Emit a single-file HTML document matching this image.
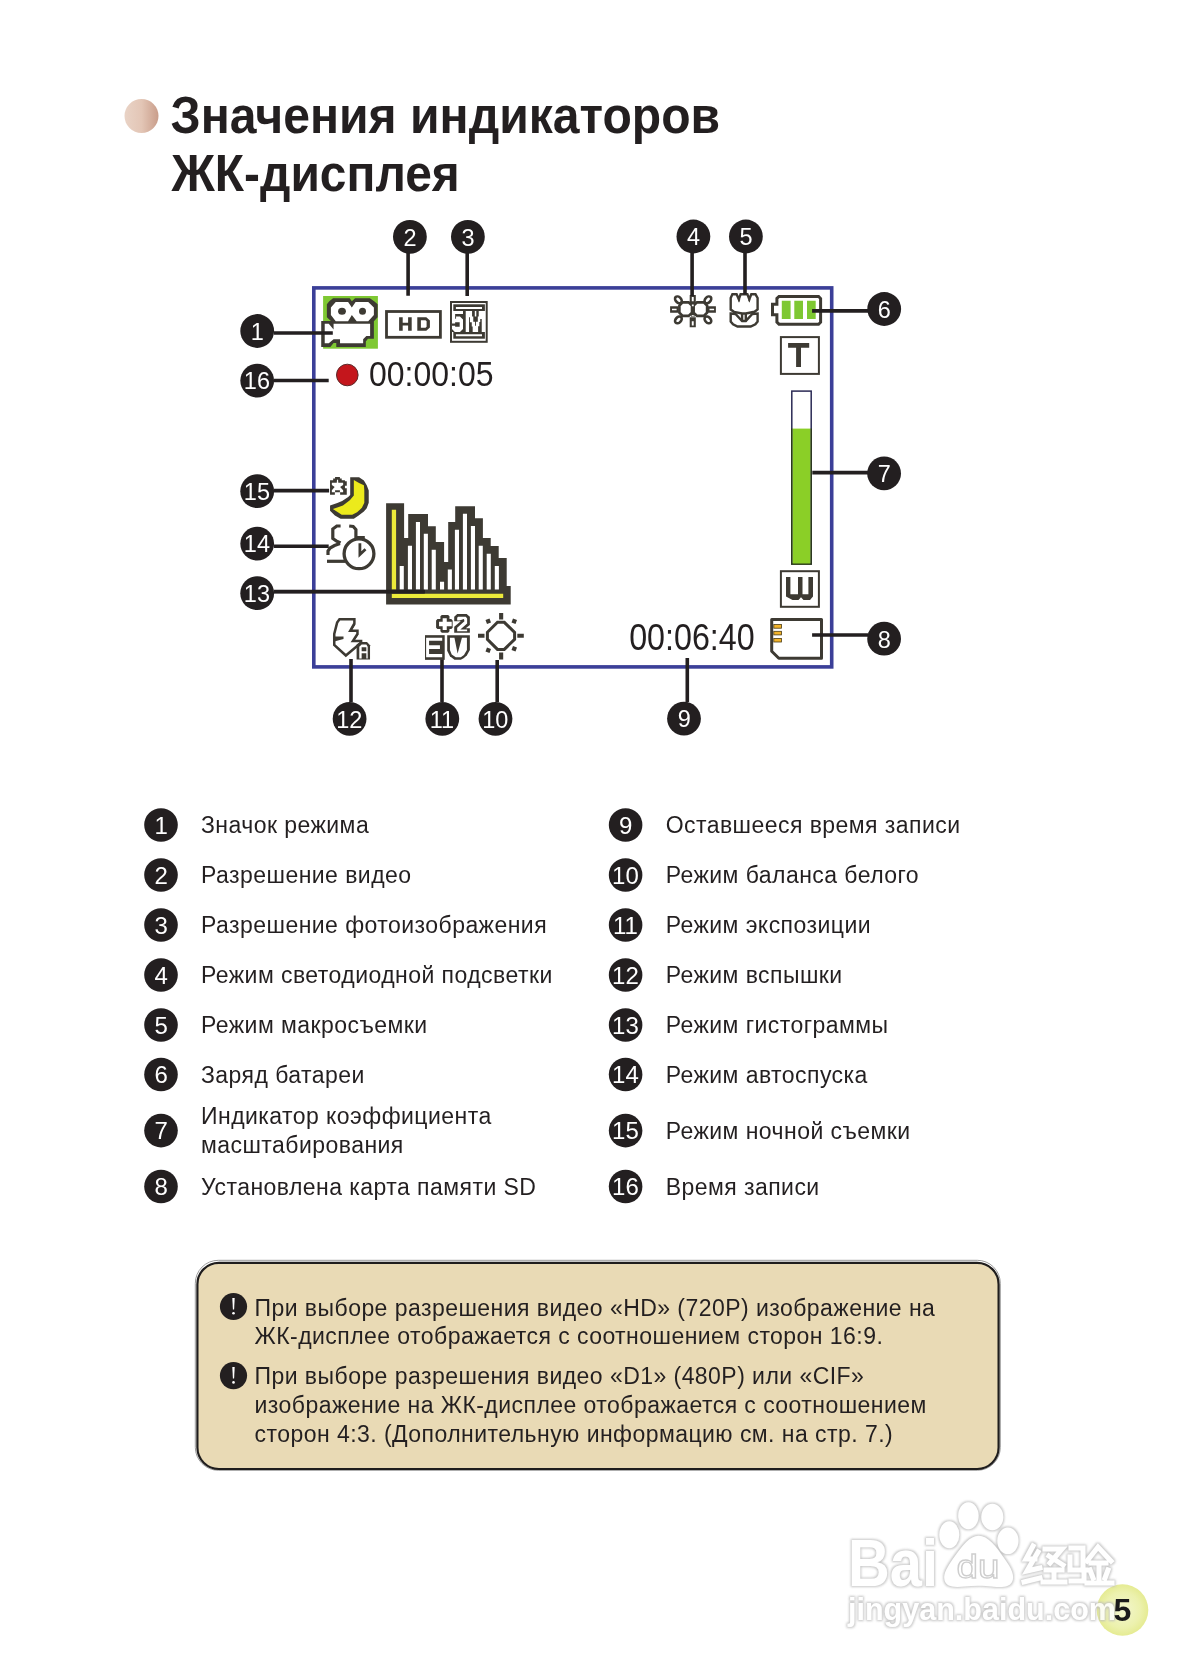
<!DOCTYPE html>
<html><head><meta charset="utf-8">
<style>
html,body{margin:0;padding:0;background:#fff;}
body{width:1191px;height:1678px;overflow:hidden;position:relative;}
svg{position:absolute;left:0;top:0;will-change:transform;}
text{font-family:"Liberation Sans",sans-serif;}
.t{font-size:23px;fill:#231f20;letter-spacing:0.45px;}
.n{font-size:23.5px;fill:#fff;text-anchor:middle;}
.nb{font-size:23.5px;fill:#fff;text-anchor:middle;}
.ln{font-size:24px;fill:#fff;text-anchor:middle;}
.lnb{font-size:24px;fill:#fff;text-anchor:middle;}
.wm{font-weight:bold;fill:#fff;stroke:#d2d2d2;stroke-width:1.6px;}
</style></head>
<body>
<svg width="1191" height="1678" viewBox="0 0 1191 1678">
<defs>
<linearGradient id="bul" x1="0" y1="0" x2="1" y2="0">
<stop offset="0" stop-color="#e9d3c6"/><stop offset="0.5" stop-color="#e3c6b6"/><stop offset="1" stop-color="#c99d8a"/>
</linearGradient>
<radialGradient id="pg" cx="0.5" cy="0.5" r="0.5">
<stop offset="0" stop-color="#f3f6cf"/><stop offset="0.7" stop-color="#ecf1ad"/><stop offset="1" stop-color="#e5eb92"/>
</radialGradient>
</defs>

<circle cx="141.5" cy="116" r="17" fill="url(#bul)"/>
<g font-weight="bold" font-size="51.5" fill="#231f20"><text x="170.6" y="133.4" textLength="549.6" lengthAdjust="spacingAndGlyphs">Значения индикаторов</text><text x="171.6" y="190.8" textLength="288.2" lengthAdjust="spacingAndGlyphs">ЖК-дисплея</text></g>
<rect x="313.8" y="287.9" width="517.9" height="379" fill="none" stroke="#3b3f98" stroke-width="3.6"/>
<rect x="323.1" y="296" width="54.8" height="52.7" fill="#7ec832"/>
<path d="M333.05 298.18 L349.70 298.18 L351.85 301.13 L355.08 298.18 L369.85 298.18 L374.15 301.13 L377.65 304.36 L377.65 317.26 L373.88 321.29 L373.88 338.75 L367.97 338.75 L365.82 341.44 L365.82 347.08 L336.27 347.08 L336.27 343.05 L333.58 343.05 L330.36 347.08 L321.22 347.08 L321.22 321.02 L330.90 321.02 L326.87 317.26 L326.87 304.36 L329.28 301.13 Z" fill="#3d3a33"/><path d="M335.73 301.94 L348.09 301.94 L351.85 307.58 L355.61 301.94 L368.24 301.94 L373.88 307.58 L373.88 315.11 L368.24 321.29 L356.69 321.29 L351.85 315.11 L348.09 321.29 L335.73 321.29 L330.90 315.11 L330.90 307.58 Z M324.72 323.70 L328.75 323.70 L333.58 329.61 L333.58 323.70 L370.12 323.70 L370.12 336.06 L366.36 336.06 L363.14 339.29 L363.14 343.32 L340.03 343.32 L340.03 339.29 L333.58 339.29 L328.75 343.32 L324.72 343.32 Z" fill="#fff"/>
<ellipse cx="342" cy="311.2" rx="3.9" ry="3.5" fill="#3d3a33"/><ellipse cx="362.5" cy="311.2" rx="3.5" ry="3.5" fill="#3d3a33"/>
<rect x="386.5" y="311.5" width="53.9" height="25.8" fill="none" stroke="#3d3a33" stroke-width="2.8"/>
<path fill="#3d3a33" fill-rule="evenodd" d="M399.1 317.2h3.6v5.6h5.4v-5.6h3.6v13.6h-3.6v-5.2h-5.4v5.2h-3.6z M417.3 317.2h9l3.6 3.4v6.8l-3.6 3.4h-9z M420.9 320.2v7.6h4.6l1.1-1.1v-5.4l-1.1-1.1z"/>
<rect x="451" y="302" width="35.7" height="39.8" fill="none" stroke="#3d3a33" stroke-width="2"/>
<rect x="453.3" y="304.3" width="31.6" height="34.4" fill="#3d3a33"/>
<path fill="#fff" d="M455.9 306.9h26.1v2.1h-26.1z M455.9 334.2h26.1v2.1h-26.1z"/>
<path fill="#fff" d="M451.96 310.99 L463.00 310.99 L463.00 332.00 L451.96 332.00 Z M465.72 310.99 L485.07 310.99 L485.07 332.00 L465.72 332.00 Z"/>
<path fill="#3d3a33" d="M455.14 314.01 L463.00 314.01 L463.00 316.58 L455.14 316.58 Z M455.14 316.58 L456.05 316.58 L456.05 318.70 L455.14 318.70 Z M459.98 316.58 L463.00 316.58 L463.00 319.60 Z M455.14 322.32 L459.67 322.32 L459.67 326.86 L455.14 326.86 Z M451.96 323.53 L455.14 323.53 L455.14 325.65 L451.96 325.65 Z M451.96 328.97 L454.84 332.00 L451.96 332.00 Z M463.00 328.97 L463.00 332.00 L459.98 332.00 Z M469.04 317.19 L469.95 317.19 L469.95 332.00 L469.04 332.00 Z M469.95 322.32 L471.77 322.32 L471.77 332.00 L469.95 332.00 Z M471.77 326.56 L472.67 326.56 L472.67 332.00 L471.77 332.00 Z M472.07 310.99 L474.79 310.99 L474.79 316.58 L472.07 316.58 Z M476.30 310.99 L478.72 310.99 L478.72 316.58 L476.30 316.58 Z M473.28 316.58 L477.81 316.58 L477.81 321.72 L473.28 321.72 Z M475.09 321.72 L476.00 321.72 L476.00 325.65 L475.09 325.65 Z M480.23 319.00 L481.74 319.00 L481.74 332.00 L480.23 332.00 Z M479.32 322.02 L480.23 322.02 L480.23 332.00 L479.32 332.00 Z M478.11 326.25 L479.32 326.25 L479.32 332.00 L478.11 332.00 Z"/>
<circle cx="347.3" cy="375" r="10.8" fill="#c4161c" stroke="#5a2a2a" stroke-width="1"/>
<text x="0" y="0" font-size="35.5" fill="#231f20" transform="translate(368.9 386.1) scale(0.902 1)">00:00:05</text>
<g stroke="#3d3a33" stroke-width="2.6" fill="#fff"><ellipse cx="678.4" cy="299.8" rx="3.9" ry="2.7" transform="rotate(45 678.4 299.8)"/><ellipse cx="707.9" cy="299.8" rx="3.9" ry="2.7" transform="rotate(-45 707.9 299.8)"/><ellipse cx="678.4" cy="319.9" rx="3.9" ry="2.7" transform="rotate(-45 678.4 319.9)"/><ellipse cx="707.9" cy="319.9" rx="3.9" ry="2.7" transform="rotate(45 707.9 319.9)"/><path d="M682.6 302.4 H688.6 L692 305.6 V312.6 L688.6 315.9 H682.6 L679.4 312.6 V305.6 Z"/><path d="M697 302.4 H703.8 L707.1 305.6 V312.6 L703.8 315.9 H697 L693.6 312.6 V305.6 Z"/></g>
<path fill="#3d3a33" d="M689.7 295.1h6.1v8.5h-6.1z M689.7 317.2h6.1v10.1h-6.1z M670.1 306.2h8.5v6.5h-8.5z M707.4 306.2h8.5v6.5h-8.5z M691 302h3.6v15h-3.6z"/>
<path fill="#fff" d="M691.8 297h1.9v4.2h-1.9z M691.8 321.3h1.9v4.3h-1.9z M672 308.8h4.6v1.4h-4.6z M709.5 308.8h4.6v1.4h-4.6z M691.9 304.5h1.8v1.8h-1.8z M691.2 316.6 a1.6 1.6 0 0 1 3.2 0z"/>
<g stroke="#3d3a33" stroke-width="2.4" fill="#fff" stroke-linejoin="miter"><path d="M730.7 309.5 V298 L732.4 294.3 H736.6 L738.8 299.2 L740.6 294.3 H747.4 L749.3 299.2 L751.3 294.3 H755.5 L757.6 298 V309.5 L754.5 311.8 L745.8 313.5 H742.1 L734 311.8 Z"/><path d="M730.7 313.5 L735.5 314 L742.1 321 L745.8 321 L752.3 314 L757.6 313.5 V321.5 L755.4 324.3 L750.7 326.5 H737.5 L733 324.3 L730.7 321.5 Z"/><path d="M742.1 313.5 V321.5 M745.8 313.5 V321.5" fill="none"/></g>
<path fill="#3d3a33" d="M737.8 299.5 h2.6 l-1.3 3z M748 299.5 h2.6 l-1.3 3z"/>
<path d="M779 296.5 H818.6 L820.6 298.5 V322.2 L818.6 324.2 H779 L776.9 322.2 V314.8 H772.5 V304.3 H776.9 V298.5 Z" fill="#fff" stroke="#3d3a33" stroke-width="3"/>
<path fill="#7ec832" d="M781.8 300.8h8.8v18.2h-8.8z M794.3 300.8h8.7v18.2h-8.7z M807 300.8h8.7v18.2h-8.7z"/>
<rect x="780.9" y="337.1" width="38" height="36.8" fill="#fff" stroke="#3d3a33" stroke-width="2"/>
<path fill="#3d3a33" d="M788.1 343h21.1v4.7h-8.2v19.3h-4.9v-19.3h-8z"/>
<rect x="791.8" y="391.1" width="19.4" height="173" fill="#fff" stroke="#2b2a55" stroke-width="1.5"/>
<rect x="792.5" y="428.6" width="18" height="135.8" fill="#8bcf27"/>
<path d="M791.8 428.6 V564.2 H811.2 V428.6" fill="none" stroke="#2c3a18" stroke-width="1.3"/>
<rect x="780.9" y="571.2" width="38" height="35.6" fill="#fff" stroke="#3d3a33" stroke-width="2"/>
<path fill="#3d3a33" d="M786 577.1h4.4v17.1h7.6v-17.1h4.5v17.1h5.9v-17.1h4.6v19.3l-3 3.5h-6.5l-2.5-2.6-2.5 2.6h-6L786 596.4z"/>
<path d="M771.7 619.5 H821.5 V658.2 H778.8 L771.7 651.2 Z" fill="#fff" stroke="#3d3a33" stroke-width="3" stroke-linejoin="round"/>
<g fill="#f2b32a" stroke="#4a3a10" stroke-width="0.8"><rect x="773.8" y="624.6" width="7.6" height="3.6"/><rect x="773.8" y="631.3" width="7.6" height="3.6"/><rect x="773.8" y="638.4" width="7.6" height="3.6"/></g>
<text x="0" y="0" font-size="36.5" fill="#231f20" transform="translate(629.2 649.8) scale(0.883 1)">00:06:40</text>
<path d="M350.20 477.24 L359.07 477.24 L363.90 480.46 L366.72 485.30 L368.74 490.54 L368.74 502.63 L366.72 508.28 L363.90 511.50 L358.66 515.53 L353.83 518.76 L340.61 518.76 L334.88 515.53 L330.05 510.69 L330.05 505.45 L337.30 503.04 L342.14 501.02 L348.18 496.99 L350.20 494.97 Z" fill="#3d3a33"/><path d="M353.83 480.06 L359.07 482.88 L363.90 485.30 L364.31 490.54 L364.31 502.63 L361.89 507.87 L357.05 512.31 L352.21 514.72 L341.73 514.72 L332.87 509.08 L337.30 507.47 L342.94 505.45 L349.80 500.21 L353.83 495.38 Z" fill="#ecea1c"/>
<path d="M335.07 477.02 L339.91 477.02 L339.91 478.44 L341.73 478.44 L341.73 480.25 L344.95 480.25 L344.95 481.26 L346.77 481.26 L346.77 485.69 L344.95 485.69 L344.95 488.31 L346.77 488.31 L346.77 494.77 L340.11 494.77 L340.11 492.35 L334.87 492.35 L334.87 494.77 L330.03 494.77 L330.03 480.25 L333.16 480.25 L333.16 478.44 L335.07 478.44 Z" fill="#3d3a33"/><path d="M336.99 479.85 L338.10 479.85 L338.30 482.67 L343.14 482.67 L343.14 484.89 L340.11 486.90 L343.14 490.33 L343.14 492.15 L339.91 492.15 L339.91 490.13 L335.07 490.13 L335.07 492.15 L331.85 492.15 L331.85 490.33 L334.67 486.90 L331.85 484.89 L331.85 482.67 L336.79 482.67 Z" fill="#fff"/>
<g stroke="#3d3a33" stroke-width="3.2" fill="none" stroke-linejoin="miter"><path d="M340.6 526 H336.8 L332.8 529 V538.5 L336.2 540.8 L340.5 543"/><path d="M340 543.5 L334.5 545.5 L330 548 L328 551 V555"/><path d="M327 561.3 H345"/><path d="M349.2 526 L353.2 526.5 L355.9 529.5 V537.5 H364.8"/></g>
<circle cx="359" cy="553.8" r="14.9" fill="#fff" stroke="#3d3a33" stroke-width="3.3"/>
<path d="M359.9 543.2 V554.5 L365.5 549.3" fill="none" stroke="#3d3a33" stroke-width="2.8"/>
<path d="M386.1 604.6 V503.2 H404.1 V537.9 H408.2 V514 H428 V526.2 H435.8 V542 H444.1 V562 H448.2 V522 H455.2 V506.2 H475 V518.2 H482.9 V538.1 H490.7 V546.1 H498.7 V558.1 H506.7 V586.1 H510.7 V604.6 Z" fill="#3d3a33"/>
<path d="M399.7 565.9h4.1V589.6h-4.1zM407.9 545.8h4.1V589.6h-4.1zM415.9 522h4.1V589.6h-4.1zM423.8 533.8h4.1V589.6h-4.1zM431.7 549.7h4.1V589.6h-4.1zM440 581.8h4.1V589.6h-4.1zM447.8 569.6h4.1V589.6h-4.1zM454.9 529.7h4.1V589.6h-4.1zM462.9 513.8h4.1V589.6h-4.1zM470.9 525.9h4.1V589.6h-4.1zM478.7 545.8h4.1V589.6h-4.1zM486.7 553.8h4.1V589.6h-4.1zM494.8 565.9h4.1V589.6h-4.1z" fill="#fff"/>
<path d="M391.8 509.7h4.3v79.9h-4.3z M391.8 593.7h111.4v4.2h-111.4z" fill="#ecea3a"/>
<path d="M274 591.6 H424.7" stroke="#231f20" stroke-width="3.2"/>
<path d="M339.48 619.24 L354.39 619.24 L354.39 623.47 L350.22 630.86 L357.47 630.86 L357.47 633.88 L352.91 640.93 L361.10 640.93 L361.10 642.61 L345.86 655.50 L334.24 644.96 L334.24 633.88 L337.13 622.60 Z" fill="#fff" stroke="#3d3a33" stroke-width="2.5" stroke-linejoin="miter"/>
<path d="M334.24 636.56 L343.51 636.56 L343.51 638.92 L334.24 641.60 Z M354.39 623.47 L355.59 624.48 L351.56 630.86 L350.22 630.86 Z M357.47 633.88 L358.62 634.55 L354.25 640.93 L352.91 640.93 Z" fill="#3d3a33"/>
<path d="M356.60 644.62 L360.30 641.94 L367.01 641.94 L370.03 645.30 L370.03 659.40 L356.60 659.40 Z" fill="#3d3a33"/>
<path d="M359.29 658.39 L359.29 646.64 L361.64 644.62 L366.34 644.62 L367.68 646.64 L367.68 658.39 L366.34 658.39 L366.34 653.35 L361.64 653.35 L361.64 658.39 Z M361.64 647.31 L366.34 647.31 L366.34 651.34 L361.64 651.34 Z" fill="#fff" fill-rule="evenodd"/>
<path d="M424.99 635.16 L444.71 635.16 L444.71 659.86 L424.99 659.86 Z" fill="#3d3a33"/>
<path d="M426.12 637.65 L442.21 637.65 L442.21 640.83 L426.12 640.83 Z M426.12 640.83 L429.07 640.83 L429.07 657.37 L426.12 657.37 Z M429.07 645.36 L439.95 645.36 L439.95 648.98 L429.07 648.98 Z M429.07 653.97 L442.21 653.97 L442.21 657.37 L429.07 657.37 Z" fill="#fff"/>
<path d="M447.20 635.16 L469.86 635.16 L469.86 649.89 L466.92 655.33 L463.97 658.05 L460.80 659.86 L454.45 659.86 L449.92 656.24 L447.20 650.80 Z" fill="#3d3a33"/><path d="M449.92 637.65 L454.45 637.65 L457.62 653.52 L461.93 637.65 L466.92 637.65 L466.92 649.89 L463.97 654.88 L460.80 657.14 L455.81 657.14 L451.73 654.42 L449.92 649.89 Z" fill="#fff"/>
<path d="M441.76 614.99 L448.11 614.99 L449.47 616.35 L449.47 619.07 L451.28 619.07 L452.64 620.43 L452.64 627.68 L451.28 629.04 L449.47 629.04 L449.47 631.31 L448.11 632.67 L441.76 632.67 L440.40 631.31 L440.40 629.04 L437.45 629.04 L436.09 627.68 L436.09 620.43 L437.45 619.07 L440.40 619.07 L440.40 616.35 Z" fill="#3d3a33"/><path d="M442.67 618.16 L446.75 618.16 L446.75 621.79 L451.73 621.79 L451.73 626.32 L446.75 626.32 L446.75 629.95 L442.67 629.95 L442.67 626.32 L439.04 626.32 L439.04 621.79 L442.67 621.79 Z" fill="#fff"/>
<path d="M457.17 614.08 L466.69 614.08 L469.86 616.80 L469.86 624.96 L465.78 628.13 L469.86 628.13 L469.86 632.67 L454.22 632.67 L454.22 626.77 L460.80 621.33 L454.22 621.33 L454.22 616.80 Z" fill="#3d3a33"/><path d="M458.08 616.80 L465.78 616.80 L467.14 618.61 L467.14 623.60 L460.34 629.49 L467.14 629.49 L467.14 631.31 L457.17 631.31 L457.17 627.68 L464.42 621.33 L463.97 619.07 L459.44 620.43 L457.17 620.43 L457.17 617.71 Z" fill="#fff"/>
<path d="M497.5 622.3 H504.3 L514.6 632.3 V639.3 L504.3 649.4 H497.5 L487.4 639.3 V632.3 Z" fill="#fff" stroke="#3d3a33" stroke-width="3"/>
<path fill="#3d3a33" d="M499.1 613h4.1v6.6h-4.1z M499.1 652.4h4.1v7h-4.1z M478 633.7h6.5v4h-6.5z M517.3 633.7h6.5v4h-6.5z M485.5 620l4 -1.5 1.5 4 -4 1.5z M513 618.5l4 1.5 -1.5 4 -4 -1.5z M485.5 651.5l1.5 -4 4 1.5 -1.5 4z M515.5 651.5l-4 -1.5 1.5 -4 4 1.5z"/>
<path stroke="#231f20" stroke-width="3.6" fill="none" d="M408.1 253 V295.7 M467.2 253 V296 M692.1 253 V296 M745 253 V294.6 M274 333 H332.8 M274 380.5 H328.7 M274 490.6 H329.1 M274 546.2 H328.7 M274 591.6 H424.7 M812.1 310.9 H868 M812.3 472.6 H868 M812.1 635 H868 M351 659 V702 M442 659.5 V702 M497.2 659.9 V702 M687.3 658.1 V702"/>
<circle cx="257.2" cy="331" r="16.9" fill="#231f20"/><text class="n" x="257.4" y="339.8">1</text>
<circle cx="409.9" cy="236.8" r="16.9" fill="#231f20"/><text class="n" x="410.09999999999997" y="245.60000000000002">2</text>
<circle cx="467.9" cy="236.8" r="16.9" fill="#231f20"/><text class="n" x="468.09999999999997" y="245.60000000000002">3</text>
<circle cx="693.4" cy="236.5" r="16.9" fill="#231f20"/><text class="n" x="693.6" y="245.3">4</text>
<circle cx="745.9" cy="236.5" r="16.9" fill="#231f20"/><text class="n" x="746.1" y="245.3">5</text>
<circle cx="884.2" cy="309" r="16.9" fill="#231f20"/><text class="n" x="884.4000000000001" y="317.8">6</text>
<circle cx="884.1" cy="473.4" r="16.9" fill="#231f20"/><text class="n" x="884.3000000000001" y="482.2">7</text>
<circle cx="884.1" cy="638.7" r="16.9" fill="#231f20"/><text class="n" x="884.3000000000001" y="647.5">8</text>
<circle cx="684" cy="718.6" r="16.9" fill="#231f20"/><text class="n" x="684.2" y="727.4">9</text>
<circle cx="495.5" cy="718.8" r="16.9" fill="#231f20"/><text class="nb" x="495.2" y="727.5999999999999">10</text>
<circle cx="442.3" cy="718.8" r="16.9" fill="#231f20"/><text class="nb" x="442.0" y="727.5999999999999">11</text>
<circle cx="349.6" cy="718.8" r="16.9" fill="#231f20"/><text class="nb" x="349.3" y="727.5999999999999">12</text>
<circle cx="257.2" cy="593.2" r="16.9" fill="#231f20"/><text class="nb" x="256.9" y="602.0">13</text>
<circle cx="257.2" cy="543.6" r="16.9" fill="#231f20"/><text class="nb" x="256.9" y="552.4">14</text>
<circle cx="257.2" cy="491.2" r="16.9" fill="#231f20"/><text class="nb" x="256.9" y="500.0">15</text>
<circle cx="257.2" cy="380.6" r="16.9" fill="#231f20"/><text class="nb" x="256.9" y="389.40000000000003">16</text>
<circle cx="161" cy="825" r="16.8" fill="#231f20"/><text class="ln" x="161.2" y="833.6">1</text>
<text class="t" x="201" y="833">Значок режима</text>
<circle cx="161" cy="875" r="16.8" fill="#231f20"/><text class="ln" x="161.2" y="883.6">2</text>
<text class="t" x="201" y="883">Разрешение видео</text>
<circle cx="161" cy="925" r="16.8" fill="#231f20"/><text class="ln" x="161.2" y="933.6">3</text>
<text class="t" x="201" y="933">Разрешение фотоизображения</text>
<circle cx="161" cy="975" r="16.8" fill="#231f20"/><text class="ln" x="161.2" y="983.6">4</text>
<text class="t" x="201" y="983">Режим светодиодной подсветки</text>
<circle cx="161" cy="1025" r="16.8" fill="#231f20"/><text class="ln" x="161.2" y="1033.6">5</text>
<text class="t" x="201" y="1033">Режим макросъемки</text>
<circle cx="161" cy="1074.5" r="16.8" fill="#231f20"/><text class="ln" x="161.2" y="1083.1">6</text>
<text class="t" x="201" y="1082.5">Заряд батареи</text>
<circle cx="161" cy="1130.6" r="16.8" fill="#231f20"/><text class="ln" x="161.2" y="1139.1999999999998">7</text>
<text class="t" x="201" y="1123.8999999999999">Индикатор коэффициента</text>
<text class="t" x="201" y="1152.8">масштабирования</text>
<circle cx="161" cy="1186.5" r="16.8" fill="#231f20"/><text class="ln" x="161.2" y="1195.1">8</text>
<text class="t" x="201" y="1194.5">Установлена карта памяти SD</text>
<circle cx="625.6" cy="825" r="16.8" fill="#231f20"/><text class="ln" x="625.8000000000001" y="833.6">9</text>
<text class="t" x="665.7" y="833">Оставшееся время записи</text>
<circle cx="625.6" cy="875" r="16.8" fill="#231f20"/><text class="lnb" x="625.4" y="883.6">10</text>
<text class="t" x="665.7" y="883">Режим баланса белого</text>
<circle cx="625.6" cy="925" r="16.8" fill="#231f20"/><text class="lnb" x="625.4" y="933.6">11</text>
<text class="t" x="665.7" y="933">Режим экспозиции</text>
<circle cx="625.6" cy="975" r="16.8" fill="#231f20"/><text class="lnb" x="625.4" y="983.6">12</text>
<text class="t" x="665.7" y="983">Режим вспышки</text>
<circle cx="625.6" cy="1025" r="16.8" fill="#231f20"/><text class="lnb" x="625.4" y="1033.6">13</text>
<text class="t" x="665.7" y="1033">Режим гистограммы</text>
<circle cx="625.6" cy="1074.5" r="16.8" fill="#231f20"/><text class="lnb" x="625.4" y="1083.1">14</text>
<text class="t" x="665.7" y="1082.5">Режим автоспуска</text>
<circle cx="625.6" cy="1130.6" r="16.8" fill="#231f20"/><text class="lnb" x="625.4" y="1139.1999999999998">15</text>
<text class="t" x="665.7" y="1138.6">Режим ночной съемки</text>
<circle cx="625.6" cy="1186.5" r="16.8" fill="#231f20"/><text class="lnb" x="625.4" y="1195.1">16</text>
<text class="t" x="665.7" y="1194.5">Время записи</text>
<rect x="195.3" y="1260.3" width="805" height="210" rx="23" fill="none" stroke="#9a9a9a" stroke-width="1"/>
<rect x="197.4" y="1262.8" width="801.2" height="206.2" rx="21.5" fill="#e9dab5" stroke="#1f1d1d" stroke-width="2.2"/>
<circle cx="233.5" cy="1306.5" r="13.6" fill="#231f20"/><path d="M232.3 1298.0 h2.4 l-0.6 11.5 h-1.2 z" fill="#fff"/><circle cx="233.5" cy="1313.3" r="1.3" fill="#fff"/>
<circle cx="233.5" cy="1375.6" r="13.6" fill="#231f20"/><path d="M232.3 1367.1 h2.4 l-0.6 11.5 h-1.2 z" fill="#fff"/><circle cx="233.5" cy="1382.3999999999999" r="1.3" fill="#fff"/>
<text class="t" x="254.5" y="1315.7">При выборе разрешения видео «HD» (720P) изображение на</text>
<text class="t" x="254.5" y="1343.5">ЖК-дисплее отображается с соотношением сторон 16:9.</text>
<text class="t" x="254.5" y="1383.5">При выборе разрешения видео «D1» (480P) или «CIF»</text>
<text class="t" x="254.5" y="1412.7">изображение на ЖК-дисплее отображается с соотношением</text>
<text class="t" x="254.5" y="1442">сторон 4:3. (Дополнительную информацию см. на стр. 7.)</text>
<circle cx="1122.5" cy="1610" r="25.8" fill="url(#pg)"/>
<defs><filter id="wmf" x="-10%" y="-20%" width="120%" height="140%"><feMorphology operator="dilate" radius="1.3" in="SourceAlpha" result="d"/><feGaussianBlur in="d" stdDeviation="0.9" result="b"/><feFlood flood-color="#bdbdbd"/><feComposite in2="b" operator="in" result="o"/><feMerge><feMergeNode in="o"/><feMergeNode in="SourceGraphic"/></feMerge></filter></defs>
<g filter="url(#wmf)" opacity="0.85">
<text x="848" y="1585.9" font-weight="bold" font-size="66" fill="#fff" textLength="90" lengthAdjust="spacingAndGlyphs">Bai</text>
<ellipse cx="949.3" cy="1534.7" rx="10" ry="13.5" fill="#fff"/><ellipse cx="968.4" cy="1515.7" rx="10.2" ry="13.5" fill="#fff"/><ellipse cx="992.3" cy="1517" rx="11" ry="13.2" fill="#fff"/><ellipse cx="1007.9" cy="1540.8" rx="10.6" ry="13.2" fill="#fff"/>
<path fill="#fff" d="M978.5 1535.7 C988 1535.7 996 1546 1004 1558 C1012 1569 1015 1576 1012 1582 C1009 1588 1000 1587.5 992 1586.5 C984 1585.5 973 1585.5 964 1586.5 C954 1587.5 946 1587 944.5 1580 C943 1573 948 1566 955 1556 C963 1545 970 1535.7 978.5 1535.7 Z"/>
</g>
<g opacity="0.85"><text x="956.5" y="1578" font-size="34" fill="#fff" stroke="#c6c6c6" stroke-width="1.3" textLength="43" lengthAdjust="spacingAndGlyphs">du</text></g>
<g filter="url(#wmf)" opacity="0.85" stroke="#fff" stroke-width="5" fill="none" stroke-linecap="square" stroke-linejoin="miter"><path d="M1033 1546 L1026 1559 H1035 M1038 1552 L1027 1571 L1040 1568 M1024 1582 L1040 1578"/><path d="M1045 1549 H1062 L1050 1563 M1049 1556 L1063 1565 M1046 1570 H1062 M1054 1570 V1582 M1043 1582 H1065"/><path d="M1071 1548 H1083 V1568 M1070 1557 V1570 H1086 M1071 1581 H1084 V1570"/><path d="M1087 1561 L1098 1547 L1111 1561 M1091 1563 H1106 M1090 1570 L1093 1578 M1099 1568 V1578 M1108 1570 L1105 1578 M1087 1583 H1112"/></g>
<g filter="url(#wmf)" opacity="0.85"><text x="848" y="1620.3" font-weight="bold" font-size="30.5" fill="#fff" textLength="268" lengthAdjust="spacingAndGlyphs">jingyan.baidu.com</text></g>
<text x="1122.5" y="1620.8" font-weight="bold" font-size="32" fill="#1a1a1a" text-anchor="middle">5</text>
</svg>
</body></html>
